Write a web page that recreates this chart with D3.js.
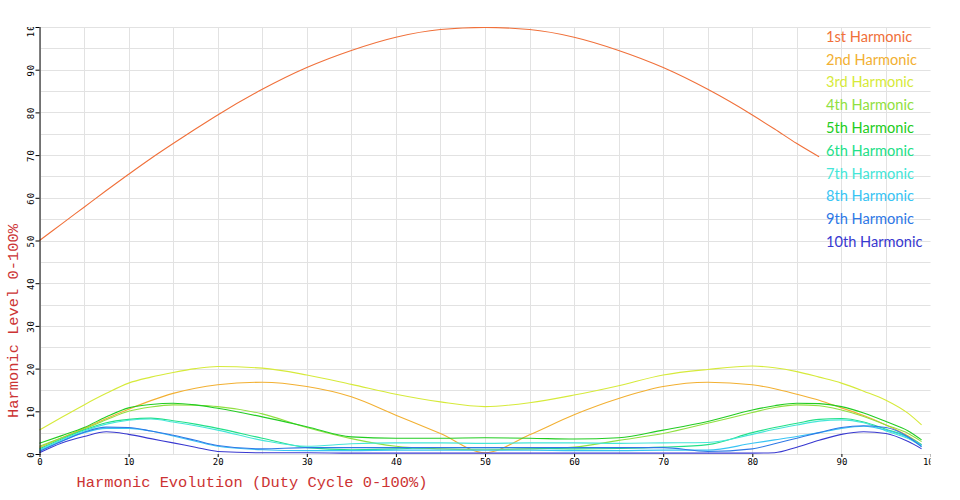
<!DOCTYPE html>
<html>
<head>
<meta charset="utf-8">
<script src="https://cdn.jsdelivr.net/npm/d3@7"></script>
<style>
  html, body { margin: 0; padding: 0; background: #ffffff; }
  svg { display: block; }
</style>
</head>
<body>
<svg id="chart" width="960" height="500"></svg>
<script>
// ---- data ----
const duty = [0, 2.5, 5, 7.5, 10, 12.5, 15, 17.5, 20, 25, 30, 35, 40, 45, 50, 55, 60, 65, 70, 75, 80, 82.5, 85, 87.5, 90, 92.5, 95, 97.5, 99];

const h1  = [50, 53.9, 57.8, 61.7, 65.5, 69.2, 72.7, 76.1, 79.4, 85.4, 90.5, 94.5, 97.6, 99.4, 99.9, 99.4, 97.6, 94.5, 90.5, 85.4, 79.4, 76.1, 72.7, 69.6, null, null, null, null, null];
const h2  = [1.5, 3.8, 6.0, 8.3, 10.5, 12.5, 14.2, 15.4, 16.2, 16.8, 15.8, 13.4, 9.1, 4.8, 0.3, 4.5, 9.2, 13.0, 15.8, 16.8, 16.2, 15.3, 14.0, 12.6, 10.8, 9.0, 6.8, 4.2, 2.2];
const h3  = [5.6, 8.6, 11.5, 14.2, 16.6, 18.0, 19.1, 20.0, 20.5, 20.1, 18.5, 16.3, 14.0, 12.2, 11.1, 12.0, 13.8, 16.0, 18.5, 19.8, 20.6, 20.2, 19.3, 18.0, 16.6, 14.7, 12.6, 9.5, 6.8];
const h4  = [1.8, 3.8, 5.8, 8.0, 10.0, 11.0, 11.5, 11.4, 11.1, 9.4, 6.2, 3.6, 1.8, 1.2, 1.0, 1.2, 1.6, 3.2, 4.8, 7.2, 9.7, 10.9, 11.5, 11.3, 10.3, 8.8, 6.8, 4.8, 2.9];
const h5  = [2.5, 4.3, 6.2, 8.7, 10.8, 11.6, 11.9, 11.5, 10.7, 8.7, 6.4, 4.0, 3.7, 3.7, 3.8, 3.7, 3.5, 3.8, 5.6, 7.6, 10.3, 11.3, 11.9, 11.8, 11.1, 9.6, 7.6, 5.4, 3.3];
const h6  = [1.2, 3.5, 5.6, 7.3, 8.1, 8.4, 7.8, 7.0, 6.0, 3.7, 1.5, 1.0, 1.2, 1.5, 1.5, 1.4, 1.2, 1.3, 1.6, 2.2, 5.0, 6.2, 7.2, 8.1, 8.3, 7.5, 5.8, 4.0, 2.2];
const h7  = [1.0, 3.3, 5.4, 7.0, 7.9, 8.2, 7.5, 6.6, 5.6, 3.2, 1.8, 2.4, 2.6, 2.6, 2.5, 2.6, 2.6, 2.5, 2.6, 2.7, 4.6, 5.8, 6.8, 7.7, 8.0, 7.3, 5.4, 3.6, 1.8];
const h8  = [0.8, 3.0, 5.0, 6.0, 6.0, 5.4, 4.2, 3.0, 1.8, 1.0, 0.8, 0.8, 0.9, 0.9, 0.9, 0.9, 0.8, 0.8, 0.9, 0.9, 2.5, 3.3, 4.1, 5.0, 6.0, 6.5, 5.6, 3.8, 2.1];
const h9  = [0.6, 3.0, 5.1, 6.3, 6.2, 5.4, 4.4, 3.2, 2.0, 1.2, 1.5, 1.5, 1.5, 1.5, 1.5, 1.5, 1.5, 1.5, 1.5, 0.6, 1.2, 2.4, 3.7, 5.0, 6.2, 6.6, 6.2, 4.0, 1.7];
const h10 = [0.3, 2.6, 4.1, 5.2, 4.6, 3.6, 2.6, 1.6, 0.6, 0.3, 0.3, 0.2, 0.2, 0.2, 0.2, 0.2, 0.2, 0.2, 0.2, 0.2, 0.2, 0.3, 1.6, 3.2, 4.6, 5.2, 4.8, 2.9, 1.2];

const seriesNames  = ["1st Harmonic", "2nd Harmonic", "3rd Harmonic", "4th Harmonic", "5th Harmonic",
                      "6th Harmonic", "7th Harmonic", "8th Harmonic", "9th Harmonic", "10th Harmonic"];
const seriesColors = ["#f0703a", "#f2b032", "#d6ea3a", "#90e040", "#22cc22",
                      "#22e088", "#44e6d8", "#38c4f4", "#2e78e6", "#3838d0"];
const seriesValues = [h1, h2, h3, h4, h5, h6, h7, h8, h9, h10];

const xTicks = [0, 10, 20, 30, 40, 50, 60, 70, 80, 90, 100];
const yTicks = [0, 10, 20, 30, 40, 50, 60, 70, 80, 90, 100];
const gridSteps = d3.range(0, 101, 5);

const xTitle = "Harmonic Evolution (Duty Cycle 0-100%)";
const yTitle = "Harmonic Level 0-100%";

// ---- layout ----
const svg = d3.select("#chart");
const padL = 39.5, padR = 930.5, padT = 27, padB = 454;
const x = d3.scaleLinear().domain([0, 100]).range([padL, padR]);
const y = d3.scaleLinear().domain([0, 100]).range([padB, padT]);

const defs = svg.append("defs");
defs.append("clipPath").attr("id", "clipAll")
  .append("rect").attr("x", 0).attr("y", padT).attr("width", padR).attr("height", 500 - padT);

const root = svg.append("g").attr("clip-path", "url(#clipAll)");

// grid
const grid = root.append("g").attr("stroke", "#e2e2e2").attr("stroke-width", 1).attr("shape-rendering", "crispEdges");
grid.selectAll("line.v").data(gridSteps).join("line")
  .attr("class", "v")
  .attr("x1", d => Math.round(x(d)) + 0.5).attr("x2", d => Math.round(x(d)) + 0.5)
  .attr("y1", padT).attr("y2", padB);
grid.selectAll("line.h").data(gridSteps).join("line")
  .attr("class", "h")
  .attr("x1", padL).attr("x2", padR)
  .attr("y1", d => Math.round(y(d)) + 0.5).attr("y2", d => Math.round(y(d)) + 0.5);

// series
const line = d3.line()
  .defined(d => d[1] !== null)
  .x(d => x(d[0]))
  .y(d => y(d[1]))
  .curve(d3.curveMonotoneX);

const seriesG = root.append("g");
seriesValues.forEach((vals, i) => {
  const pts = duty.map((d, j) => [d, vals[j]]);
  seriesG.append("path")
    .datum(pts)
    .attr("fill", "none")
    .attr("stroke", seriesColors[i])
    .attr("stroke-width", 1.1)
    .attr("d", line);
});

// y axis
const yAxis = root.append("g")
  .attr("transform", `translate(${padL},0)`)
  .call(d3.axisLeft(y).tickValues(yTicks).tickSize(4).tickFormat(d => d));
yAxis.select(".domain").attr("stroke", "#000").attr("d", `M0.5,${padT}V${padB + 1}`);
yAxis.selectAll(".tick line").attr("stroke", "#000");
yAxis.selectAll(".tick text")
  .attr("x", 0).attr("dy", 0)
  .attr("text-anchor", "middle")
  .attr("transform", "translate(-6,0) rotate(-90)")
  .attr("font-family", "DejaVu Sans Mono, monospace")
  .attr("font-size", 9)
  .attr("letter-spacing", 1)
  .attr("fill", "#000");

// x axis
const xAxis = root.append("g")
  .attr("transform", `translate(0,${padB})`)
  .call(d3.axisBottom(x).tickValues(xTicks).tickSize(3).tickPadding(2).tickFormat(d => d));
xAxis.select(".domain").remove();
xAxis.selectAll(".tick line").attr("stroke", "#000");
xAxis.selectAll(".tick text")
  .attr("font-family", "DejaVu Sans Mono, monospace")
  .attr("font-size", 9)
  .attr("fill", "#000");

// axis titles
svg.append("text")
  .attr("x", 252).attr("y", 487)
  .attr("text-anchor", "middle")
  .attr("font-family", "Liberation Mono, monospace")
  .attr("font-size", 15.4)
  .attr("fill", "#cc3333")
  .text(xTitle);

svg.append("text")
  .attr("transform", "translate(18,321) rotate(-90)")
  .attr("text-anchor", "middle")
  .attr("font-family", "Liberation Mono, monospace")
  .attr("font-size", 15.4)
  .attr("fill", "#cc3333")
  .text(yTitle);

// legend
const legend = svg.append("g");
legend.selectAll("text").data(seriesNames).join("text")
  .attr("x", 826)
  .attr("y", (d, i) => 41.7 + i * 22.8)
  .attr("font-family", "Lato, sans-serif")
  .attr("font-size", 14.6)
  .attr("fill", (d, i) => seriesColors[i])
  .text(d => d);
</script>
</body>
</html>
